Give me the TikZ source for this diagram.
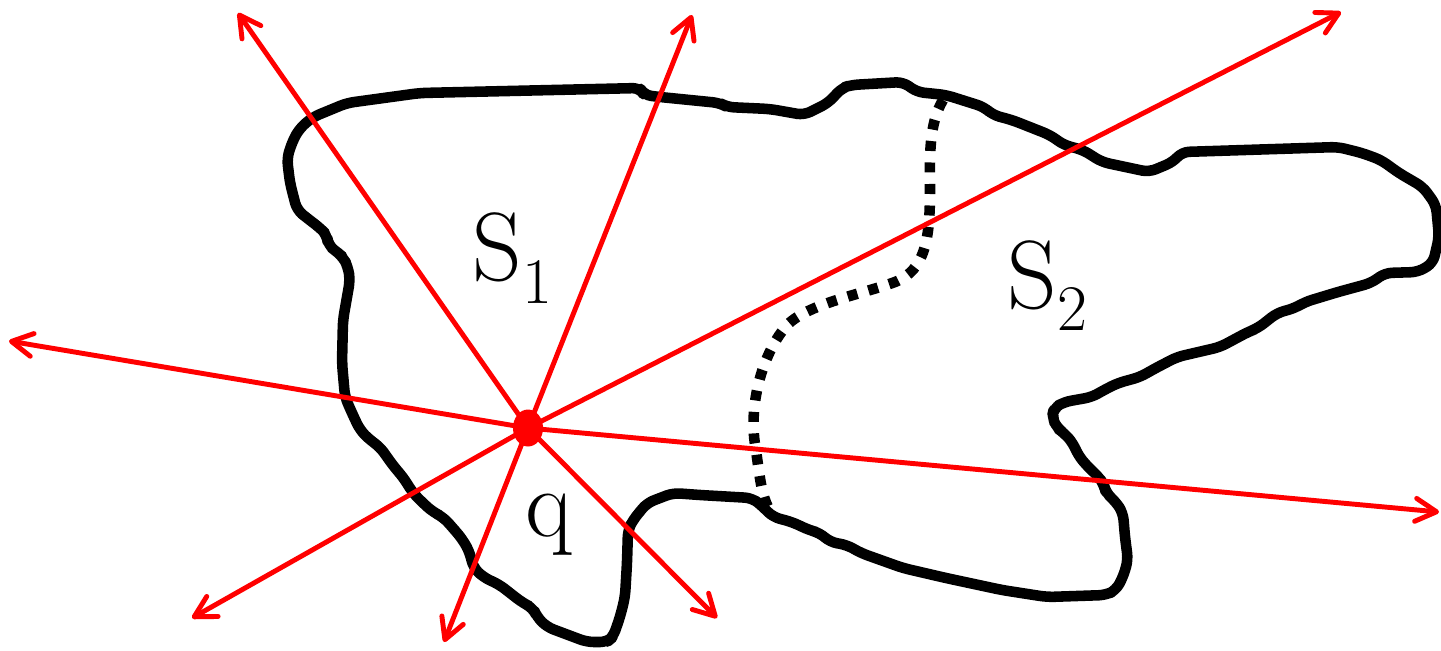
\documentclass[tikz,border=0pt]{standalone}
\usepackage{tikz}
\usetikzlibrary{shapes.geometric,arrows.meta}
\newcommand{\lblfont}{\rmfamily\fontsize{27.6}{30}\selectfont}
\newcommand{\subfont}{\fontsize{18.5}{20}\selectfont}
\tikzset{
  ray/.style={-{Straight Barb[length=2.1mm,width=2.3mm,round]}, red, line width=1.4pt, line cap=round},
  outline/.style={line width=3pt, line join=round, rounded corners=2pt},
  divide/.style={line width=3pt, dash pattern=on 0.1cm off 0.115cm},
  lbl/.style={font=\lblfont, inner sep=0pt, anchor=base west}
}
\begin{document}
\begin{tikzpicture}[x=0.01cm, y=-0.01cm]
        \useasboundingbox (0,0) rectangle (1441,650);
        \draw[outline] (300,128) -- (313,117) -- (347,103) -- (420,93) -- (640,88) -- (644,95) -- (660,97)
          -- (720,103) -- (727,107) -- (770,109) -- (804,115) -- (828,103) -- (842,88) -- (851,85)
          -- (903,82) -- (917,92) -- (946,95) -- (984,107) -- (993,115) -- (1012,120) -- (1050,135)
          -- (1064,145) -- (1083,150) -- (1102,162) -- (1149,172) -- (1173,162) -- (1182,152)
          -- (1338,147) -- (1362,153) -- (1381,160) -- (1399,173) -- (1423,187) -- (1436,205)
          -- (1439,237) -- (1433,263) -- (1418,272) -- (1385,273) -- (1371,283) -- (1338,292)
          -- (1305,302) -- (1295,308) -- (1277,313) -- (1258,328) -- (1248,332) -- (1220,347)
          -- (1177,357) -- (1154,369) -- (1140,377) -- (1118,383) -- (1104,390) -- (1092,397)
          -- (1064,402) -- (1054,408) -- (1052,417) -- (1057,428) -- (1064,433) -- (1073,443)
          -- (1078,455) -- (1088,467) -- (1099,477) -- (1104,485) -- (1106,493) -- (1116,502)
          -- (1123,513) -- (1125,537) -- (1128,560) -- (1123,577) -- (1116,590) -- (1106,595)
          -- (1047,597) -- (1002,590) -- (946,578) -- (903,568) -- (861,553) -- (847,545)
          -- (830,542) -- (820,533) -- (809,530) -- (792,522) -- (773,517) -- (761,505)
          -- (752,498) -- (700,495) -- (673,493) -- (647,503) -- (633,520) -- (628,530)
          -- (627,563) -- (625,597) -- (620,617) -- (613,637) -- (607,642) -- (587,642)
          -- (563,633) -- (547,627) -- (537,617) -- (533,608) -- (523,603) -- (510,593)
          -- (500,585) -- (483,577) -- (473,567) -- (470,553) -- (463,540) -- (453,528)
          -- (443,517) -- (433,512) -- (423,503) -- (413,493) -- (403,477) -- (395,468)
          -- (387,457) -- (380,447) -- (370,440) -- (360,430) -- (352,413) -- (345,397)
          -- (342,363) -- (343,320) -- (350,280) -- (348,267) -- (343,257) -- (337,252)
          -- (328,245) -- (327,235) -- (320,228) -- (307,218) -- (297,210) -- (290,183)
          -- (287,158) -- (293,140) -- cycle;
        \draw[divide] (943,100) .. controls (928,125) and (930,160) .. (930,190)
          .. controls (930,240) and (925,270) .. (895,282)
          .. controls (860,295) and (800,305) .. (783,330)
          .. controls (760,360) and (748,410) .. (756,450)
          .. controls (760,480) and (762,495) .. (768,507);
        \node[lbl] (s1) at (472,280) {S\raisebox{-0.23cm}{\subfont 1}};
        \node[lbl] (s2) at (1007,308) {S\raisebox{-0.22cm}{\subfont 2}};
        \node[lbl] (qlbl) at (525,536) {q};
        \coordinate (q0) at (528,428);
        \coordinate (ul) at (238,13);
        \coordinate (up) at (692,15);
        \coordinate (ur) at (1341,12);
        \coordinate (lf) at (9,341);
        \coordinate (rt) at (1439,512);
        \coordinate (dl) at (192,618);
        \coordinate (dn) at (444,642);
        \coordinate (dr) at (717,618);
        \draw[ray] (q0) -- (ul); \draw[ray] (q0) -- (up); \draw[ray] (q0) -- (ur);
        \draw[ray] (q0) -- (lf); \draw[ray] (q0) -- (rt);
        \draw[ray] (q0) -- (dl); \draw[ray] (q0) -- (dn); \draw[ray] (q0) -- (dr);
        \node[ellipse, fill=red, minimum width=0.3cm, minimum height=0.37cm, inner sep=0pt] (q) at (q0) {};
      \end{tikzpicture}
\end{document}
